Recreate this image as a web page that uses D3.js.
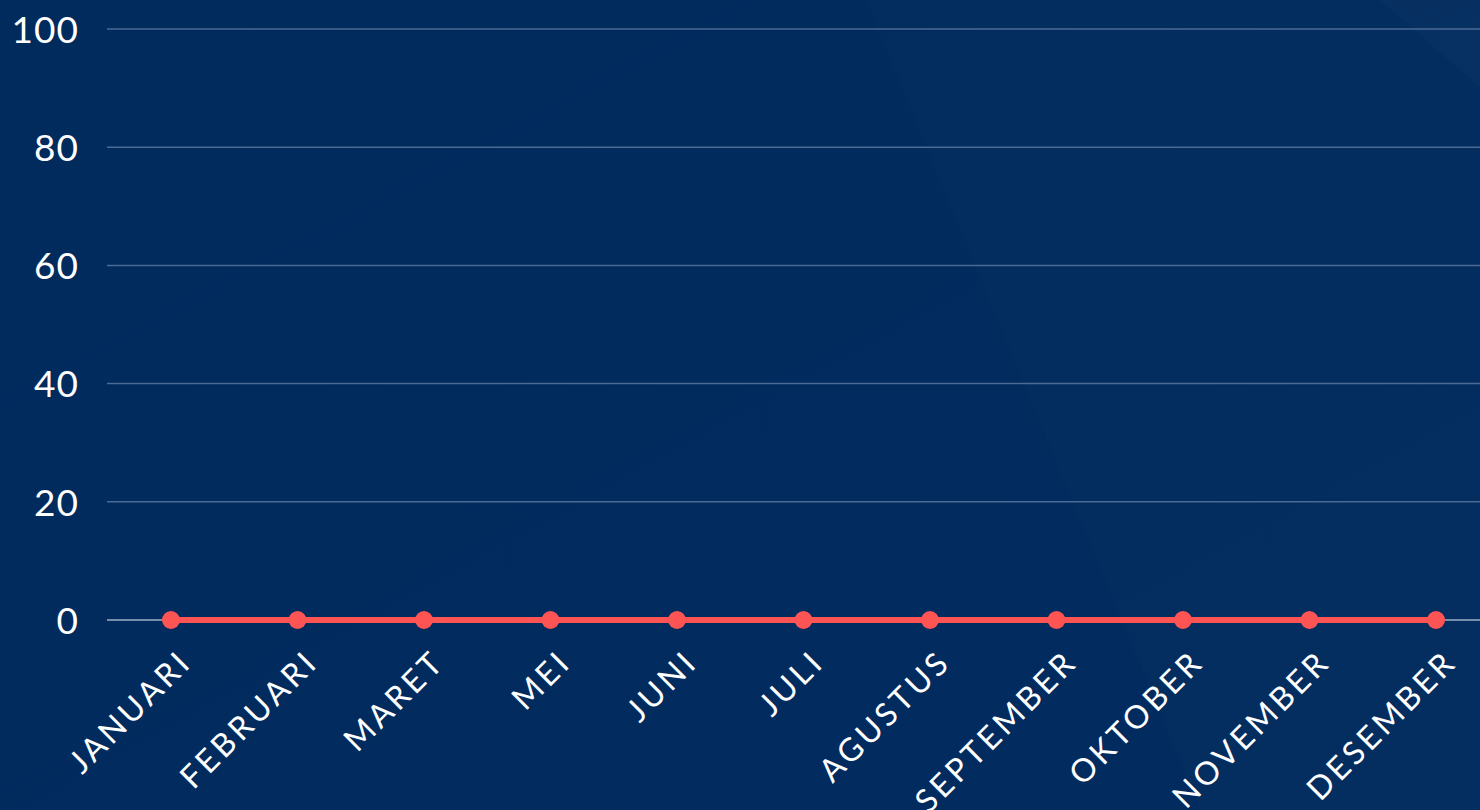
<!DOCTYPE html>
<html>
<head>
<meta charset="utf-8">
<script src="https://cdn.jsdelivr.net/npm/d3@7"></script>
<style>
  html, body { margin: 0; padding: 0; background: #012a5c; overflow: hidden; }
  svg { display: block; }
</style>
</head>
<body>
<script>
// months shown on the x axis (april is missing in the original)
var months = ["JANUARI", "FEBRUARI", "MARET", "MEI", "JUNI", "JULI", "AGUSTUS", "SEPTEMBER", "OKTOBER", "NOVEMBER", "DESEMBER"];
var values = [0, 0, 0, 0, 0, 0, 0, 0, 0, 0, 0];
var yTicks = [0, 20, 40, 60, 80, 100];

var width = 1480;
var height = 810;

var svg = d3.select("body").append("svg").attr("width", width).attr("height", height);

// background with the faint diagonal panels
var defs = svg.append("defs");
var grad = defs.append("linearGradient").attr("id", "bg").attr("x1", 0).attr("y1", 0).attr("x2", 1).attr("y2", 1);
grad.append("stop").attr("offset", "0%").attr("stop-color", "#012a5d");
grad.append("stop").attr("offset", "100%").attr("stop-color", "#022b5f");
svg.append("rect").attr("width", width).attr("height", height).attr("fill", "url(#bg)");
svg.append("path")
    .attr("d", "M866,0 L1480,0 L1480,810 L1200,810 Z")
    .attr("fill", "#ffffff").attr("opacity", 0.012);
svg.append("path")
    .attr("d", "M1380,0 L1480,0 L1480,87 Z")
    .attr("fill", "#ffffff").attr("opacity", 0.018);

var x = d3.scalePoint().domain(months).range([171, 1436]);
var y = d3.scaleLinear().domain([0, 100]).range([620, 29]);

// grid lines
svg.append("g").attr("class", "grid")
    .selectAll("line")
    .data(yTicks)
    .enter().append("line")
    .attr("x1", 107)
    .attr("x2", width)
    .attr("y1", function(d){return y(d);})
    .attr("y2", function(d){return y(d);})
    .attr("stroke", function(d){return d === 0 ? "#9fb0c6" : "#4b6a94";})
    .attr("stroke-width", 1.5);

// y axis labels
var yAxis = d3.axisLeft(y).tickValues(yTicks).tickSize(0).tickPadding(0);
var gy = svg.append("g").attr("transform", "translate(79,0)").call(yAxis);
gy.select(".domain").remove();
gy.selectAll("text")
    .attr("fill", "#ffffff")
    .attr("font-family", "Lato, sans-serif")
    .attr("font-size", 37)
    .attr("letter-spacing", 1)
    .attr("dy", "0.36em");

// x axis labels, rotated
var xAxis = d3.axisBottom(x).tickSize(0).tickPadding(0);
var gx = svg.append("g").attr("transform", "translate(0,620)").call(xAxis);
gx.select(".domain").remove();
gx.selectAll("text")
    .attr("fill", "#ffffff")
    .attr("font-family", "Lato, sans-serif")
    .attr("font-size", 32)
    .attr("letter-spacing", 3.5)
    .attr("text-anchor", "end")
    .attr("dy", 0)
    .attr("y", 0)
    .attr("transform", "translate(22,44) rotate(-45)");

// the line
var line = d3.line()
    .x(function(d, i){return x(months[i]);})
    .y(function(d){return y(d);});

svg.append("path")
    .datum(values)
    .attr("d", line)
    .attr("fill", "none")
    .attr("stroke", "#ff5454")
    .attr("stroke-width", 6);

svg.append("g")
    .selectAll("circle")
    .data(values)
    .enter().append("circle")
    .attr("cx", function(d, i){return x(months[i]);})
    .attr("cy", function(d){return y(d);})
    .attr("r", 9)
    .attr("fill", "#ff5454");
</script>
</body>
</html>
